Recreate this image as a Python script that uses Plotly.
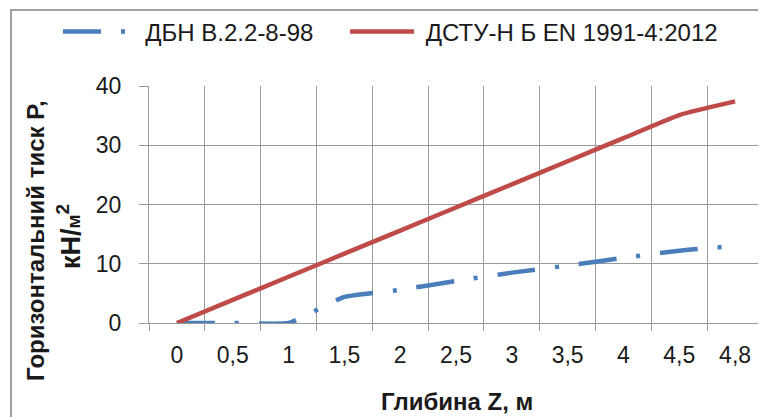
import plotly.graph_objects as go

categories = ["0", "0,5", "1", "1,5", "2", "2,5", "3", "3,5", "4", "4,5", "4,8"]
dbn_values = [0, 0, 0, 4.4, 5.6, 7.1, 8.5, 9.7, 11.0, 12.2, 13.0]
dstu_values = [0, 3.9, 7.8, 11.7, 15.6, 19.5, 23.4, 27.3, 31.2, 35.1, 37.4]
y_ticks = [0, 10, 20, 30, 40]

FONT = "Liberation Sans, Arial, sans-serif"
GRID = "#9a9a9a"
NB = "\u00a0"

OFF = 8  # page body margin
W, H = 766 - OFF, 417 - OFF
L, T = 149 - OFF, 86 - OFF
R = W - (763 - OFF)
B = H - (323 - OFF)
PW, PH = W - L - R, H - T - B


def px_x(px):
    return (px - OFF - L) / PW


def px_y(py):
    return (H - B - (py - OFF)) / PH


fig = go.Figure()
fig.add_trace(go.Scatter(
    x=categories, y=dbn_values, mode="lines",
    name=NB * 2 + "ДБН В.2.2-8-98" + NB * 4,
    line=dict(color="#4A7EBB", width=4.5, dash="38px,20px,4px,20px",
              shape="spline", smoothing=0.4),
))
fig.add_trace(go.Scatter(
    x=categories, y=dstu_values, mode="lines",
    name=NB + "ДСТУ-Н Б EN 1991-4:2012",
    line=dict(color="#BE4B48", width=4.5, shape="spline", smoothing=0.4),
))

fig.update_layout(
    width=W, height=H,
    margin=dict(l=L, r=R, t=T, b=B, autoexpand=False),
    paper_bgcolor="white", plot_bgcolor="white",
    font=dict(family=FONT, color="#1a1a1a", size=23),
    showlegend=True,
    legend=dict(orientation="h", x=px_x(58), xanchor="left", y=px_y(32), yanchor="middle",
                font=dict(size=24, family=FONT, color="#1a1a1a"), itemwidth=64,
                bgcolor="rgba(0,0,0,0)", tracegroupgap=0),
    xaxis=dict(
        type="category", range=[-0.5, 10.5], tickson="boundaries",
        showgrid=True, gridcolor=GRID, gridwidth=1,
        showline=True, linecolor=GRID, linewidth=1,
        ticks="outside", ticklen=7, tickcolor=GRID,
        tickfont=dict(size=23), zeroline=False, ticklabelstandoff=11,
    ),
    yaxis=dict(
        range=[0, 40], tickvals=y_ticks, showgrid=True, gridcolor=GRID, gridwidth=1,
        showline=True, linecolor=GRID, linewidth=1,
        ticks="outside", ticklen=9, tickcolor=GRID, zeroline=False,
        tickfont=dict(size=23), ticklabelstandoff=13,
    ),
    annotations=[
        dict(text="<b>Глибина Z, м</b>", xref="paper", yref="paper",
             x=px_x(457), y=px_y(401), xanchor="center", yanchor="middle",
             showarrow=False, font=dict(size=24, family=FONT, color="#1a1a1a")),
        dict(text="<b>Горизонтальний тиск Р,</b>", xref="paper", yref="paper",
             x=px_x(35), y=px_y(241), xanchor="center", yanchor="middle", textangle=-90,
             showarrow=False, font=dict(size=24, family=FONT, color="#1a1a1a")),
        dict(text="<b>кН/<span style='font-size:19px'>м</span><sup>2</sup></b>",
             xref="paper", yref="paper",
             x=px_x(69), y=px_y(237), xanchor="center", yanchor="middle", textangle=-90,
             showarrow=False, font=dict(size=27, family=FONT, color="#1a1a1a")),
    ],
    shapes=[dict(type="rect", xref="paper", yref="paper",
                 x0=px_x(11), x1=1.2, y0=-0.6, y1=px_y(10),
                 line=dict(color="#a0a0a0", width=2), fillcolor="rgba(0,0,0,0)")],
)

fig.write_html("out.html")
